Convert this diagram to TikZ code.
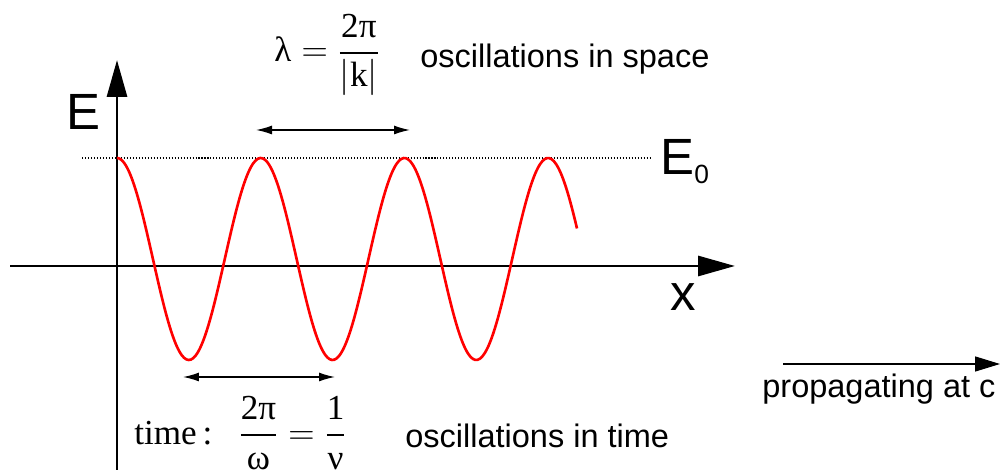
\documentclass[tikz,border=0pt]{standalone}
\usepackage[no-math]{fontspec}
\setsansfont{Liberation Sans}
\newfontfamily\wvserif{Liberation Serif}
\usepackage{amsmath}
\usetikzlibrary{arrows.meta,positioning}
\tikzset{
  wvaxis/.style={-{Triangle[length=7.4mm,width=4mm]}, line width=1.7pt},
  wvprop/.style={-{Triangle[length=5mm,width=3mm]}, line width=0.8pt},
  wvcurve/.style={draw=red, line width=1.5pt},
  wvdim/.style={{Latex[length=3.2mm,width=1.8mm]}-{Latex[length=3.2mm,width=1.8mm]}, line width=0.8pt},
  wvlevel/.style={line width=0.6pt, dash pattern=on 0.6pt off 1.1pt},
  wvbig/.style={inner sep=0pt, font=\sffamily\fontsize{29}{34}\selectfont},
  wvtext/.style={inner sep=0pt, font=\sffamily\fontsize{18.5}{22}\selectfont},
  wvmath/.style={inner sep=0pt, font=\wvserif\fontsize{20}{24}\selectfont}
}

\begin{document}
\begin{tikzpicture}[x=0.02cm,y=-0.02cm]
  \useasboundingbox (0,0) rectangle (1000,475);

  \coordinate (yfoot) at (117,470);
  \coordinate (ytip) at (117,60);
  \coordinate (xfoot) at (10,266);
  \coordinate (xtip) at (735,266);
  \draw[wvaxis] (yfoot) -- (ytip);
  \draw[wvaxis] (xfoot) -- (xtip);
  \node[wvbig] (elabel) at (83,112) {E};
  \node[wvbig] (xlabel) at (683,297) {x};

  \coordinate (lvlstart) at (82,158);
  \coordinate (lvlend) at (652,158);
  \draw[wvlevel] (lvlstart) -- (lvlend);
  \node[wvbig, anchor=base west] (ezero) at (660,175) {E\lower5pt\hbox{\fontsize{15}{15}\selectfont 0}};

  \draw[wvcurve] plot[domain=0:460, samples=200, smooth] ({\x+117}, {259-101*cos(2.5052*\x)});

  \coordinate (spl) at (256,130);
  \coordinate (spr) at (410,130);
  \draw[wvdim] (spl) -- (spr);
  \node[wvmath, anchor=west] (lambda) at (274,55) {$\text{λ} = \dfrac{\text{2π}}{|\text{k}|}$};
  \node[wvtext, anchor=base west] (spacetxt) at (420,68) {oscillations in space};

  \coordinate (tml) at (183,377);
  \coordinate (tmr) at (335,377);
  \draw[wvdim] (tml) -- (tmr);
  \node[wvmath, anchor=west] (period) at (134,433) {$\text{time\,:}\;\;\,\dfrac{\text{2π}}{\text{ω}} = \dfrac{\text{1}}{\text{ν}}$};
  \node[wvtext, anchor=base west] (timetxt) at (405,448) {oscillations in time};

  \coordinate (prl) at (783,364);
  \coordinate (prr) at (1000,364);
  \draw[wvprop] (prl) -- (prr);
  \node[wvtext, anchor=base west] (proptxt) at (762,398) {propagating at c};
\end{tikzpicture}
\end{document}
